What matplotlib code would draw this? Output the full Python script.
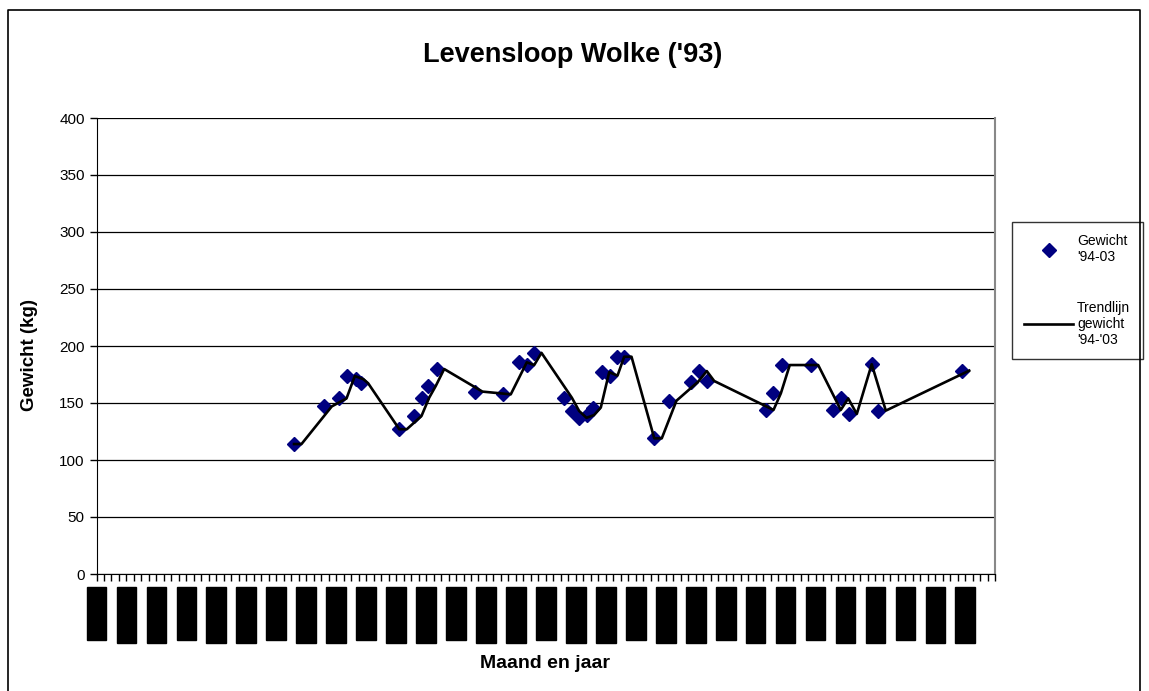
import matplotlib.pyplot as plt
from matplotlib.lines import Line2D

plt.rcParams['font.family'] = ['Liberation Sans', 'DejaVu Sans']

# meetmomenten in maanden vanaf jan-94, gewicht in kg
meet_maand = [26.37, 30.41, 32.38, 33.49, 34.65, 35.27, 40.43, 42.39, 43.42, 44.30,
              45.42, 50.53, 54.31, 56.45, 57.44, 58.41, 62.46, 63.44, 64.42, 65.45,
              66.33, 67.45, 68.56, 69.45, 70.43, 74.47, 76.43, 79.33, 80.48, 81.47,
              89.39, 90.37, 91.56, 95.35, 98.37, 99.36, 100.51, 103.50, 104.38, 115.52]
gewicht = [114, 147, 154, 173.7, 170.8, 167.3, 127, 138.6, 154.7, 165,
           179.8, 160, 157.6, 185.7, 183.3, 194, 154.7, 143, 137, 139.5,
           146, 177, 174, 190.6, 190.6, 119, 152, 168.7, 178, 169.3,
           143.9, 158.5, 183.3, 183.3, 143.9, 154, 140.4, 184, 143.3, 178.4]

trend_maand = [26.37, 27.37, 31.41, 33.38, 34.49, 35.65, 36.27, 40.43, 41.43, 43.39,
               44.42, 45.30, 46.42, 51.53, 55.31, 57.45, 58.44, 59.41, 63.46, 64.44,
               65.42, 66.45, 67.33, 68.45, 69.56, 70.45, 71.43, 74.47, 75.47, 77.43,
               80.33, 81.48, 82.47, 90.39, 91.37, 92.56, 96.35, 99.37, 100.36, 101.51,
               103.50, 105.38, 116.52]
trend_gewicht = [114, 114, 147, 154, 173.7, 170.8, 167.3, 127, 127, 138.6,
                 154.7, 165, 179.8, 160, 157.6, 185.7, 183.3, 194, 154.7, 143,
                 137, 139.5, 146, 177, 174, 190.6, 190.6, 119, 119, 152,
                 168.7, 178, 169.3, 143.9, 158.5, 183.3, 183.3, 143.9, 154, 140.4,
                 184, 143.3, 178.4]

maand_labels = ['jan-1994', 'mei-1994', 'sep-1994', 'jan-1995', 'mei-1995', 'sep-1995',
                'jan-1996', 'mei-1996', 'sep-1996', 'jan-1997', 'mei-1997', 'sep-1997',
                'jan-1998', 'mei-1998', 'sep-1998', 'jan-1999', 'mei-1999', 'sep-1999',
                'jan-2000', 'mei-2000', 'sep-2000', 'jan-2001', 'mei-2001', 'sep-2001',
                'jan-2002', 'mei-2002', 'sep-2002', 'jan-2003', 'mei-2003', 'sep-2003']

W, H = 1149, 691
fig = plt.figure(figsize=(W / 100, H / 100), dpi=100)
ax = fig.add_axes([96.5 / W, 1 - 574 / H, (995.3 - 96.5) / W, (574 - 118) / H])

ax.plot(trend_maand, trend_gewicht, color='black', lw=1.9, zorder=3,
        label="Trendlijn\ngewicht\n'94-'03")
ax.plot(meet_maand, gewicht, ls='none', marker='D', ms=7, color='#000080', zorder=2,
        label="Gewicht\n'94-03")

ax.set_xlim(0, 120)
ax.set_ylim(0, 400)
ax.set_yticks(range(0, 401, 50))
ax.set_xticks(range(0, 120, 4))
ax.set_xticks(range(0, 121), minor=True)
ax.set_xticklabels(maand_labels, rotation=90, fontsize=8.4)
for t in ax.get_xticklabels():
    t.set_bbox(dict(facecolor='black', edgecolor='black', pad=2.8))
ax.tick_params(axis='x', which='both', direction='out', length=5, width=1, pad=7)
ax.tick_params(axis='y', direction='out', length=5, width=1, labelsize=11)

ax.yaxis.grid(True, color='black', lw=0.9)
ax.set_axisbelow(True)
ax.spines['top'].set_visible(False)
ax.spines['right'].set_color('#888888')
ax.spines['right'].set_linewidth(1.5)

h, l = ax.get_legend_handles_labels()
leg = ax.legend([h[1], h[0]], [l[1], l[0]], loc='upper left',
                bbox_to_anchor=(1011.7 / W, 1 - 221.7 / H), bbox_transform=fig.transFigure,
                fancybox=False, edgecolor='black', fontsize=10, handlelength=3.5,
                labelspacing=2.6, borderpad=0.9, handletextpad=0.3, borderaxespad=0,
                markerscale=0.95)
leg.get_frame().set_linewidth(1)

fig.text(0.4987, 1 - 55 / H, "Levensloop Wolke ('93)", ha='center', va='center',
         fontsize=19.5, fontweight='bold')
fig.text(30 / W, 1 - 355 / H, 'Gewicht (kg)', rotation=90, ha='center', va='center',
         fontsize=13.5, fontweight='bold')
fig.text(545 / W, 1 - 663 / H, 'Maand en jaar', ha='center', va='center',
         fontsize=14, fontweight='bold')

# rand om de grafiek
bx = [8 / W, 8 / W, 1140 / W, 1140 / W]
by = [0, 1 - 10 / H, 1 - 10 / H, 0]
fig.add_artist(Line2D(bx, by, color='black', lw=1.2))

fig.savefig('out.png', dpi=100)
